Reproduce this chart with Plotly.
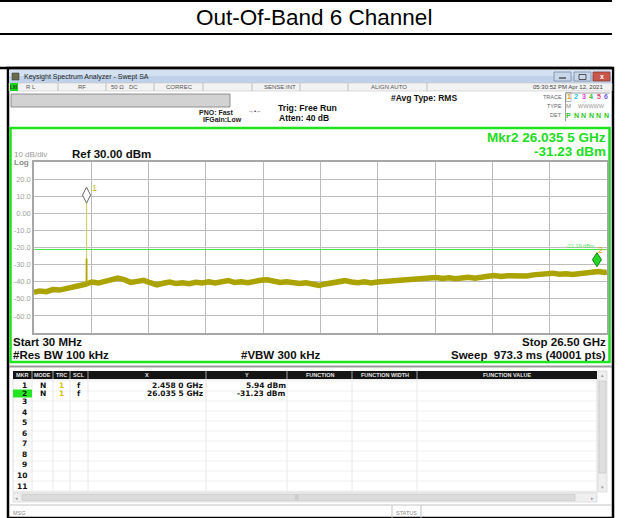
import plotly.graph_objects as go

# ---------------- data ----------------
freq_ghz = [0.03, 0.3, 0.6, 0.9, 1.2, 1.5, 1.8, 2.1, 2.4, 2.7, 3.0, 3.3, 3.6, 3.9,
            4.2, 4.5, 4.8, 5.1, 5.4, 5.7, 6.0, 6.3, 6.6, 6.9, 7.2, 7.5, 7.8, 8.1,
            8.4, 8.7, 9.0, 9.3, 9.6, 9.9, 10.2, 10.5, 10.8, 11.1, 11.4, 11.7, 12.0,
            12.3, 12.6, 12.9, 13.2, 13.5, 13.8, 14.1, 14.4, 14.7, 15.0, 15.3, 15.6,
            15.9, 16.2, 16.5, 16.8, 17.1, 17.4, 17.7, 18.0, 18.3, 18.6, 18.9, 19.2,
            19.5, 19.8, 20.1, 20.4, 20.7, 21.0, 21.3, 21.6, 21.9, 22.2, 22.5, 22.8,
            23.1, 23.4, 23.7, 24.0, 24.3, 24.6, 24.9, 25.2, 25.5, 25.8, 26.1, 26.4, 26.5]
level_dbm = [-46.2, -45.4, -45.8, -44.6, -44.9, -43.8, -43.2, -42.4, -41.6, -40.2, -40.8,
             -39.6, -39.0, -37.9, -38.8, -40.4, -39.8, -39.2, -40.6, -41.8, -40.9, -40.2,
             -41.1, -40.6, -41.2, -40.3, -40.8, -40.1, -40.7, -39.8, -39.3, -40.5, -40.0,
             -40.6, -39.7, -39.2, -38.9, -39.8, -40.4, -40.0, -40.8, -41.1, -40.6, -41.7,
             -42.2, -41.3, -40.5, -39.8, -39.4, -40.2, -40.6, -40.1, -40.7, -40.2, -39.9,
             -39.5, -39.8, -39.0, -38.7, -38.9, -38.3, -38.0, -37.5, -38.1, -37.7, -38.2,
             -37.6, -37.4, -37.9, -37.1, -36.8, -36.4, -36.9, -36.5, -36.8, -36.3, -36.6,
             -36.0, -35.6, -35.2, -35.0, -35.6, -35.3, -35.8, -35.2, -34.9, -34.4, -34.0,
             -34.6, -34.3]
spike_freq = 2.458
spike_top = 5.94
spike_base = -40.5
spike_mid = -26.5
mkr_freq = [2.4580, 26.0355]
mkr_level = [5.94, -31.23]
mkr_x_text = ["2.458 0 GHz", "26.035 5 GHz"]
mkr_y_text = ["5.94 dBm", "-31.23 dBm"]
display_line = -21.19
f_start, f_stop = 0.03, 26.5
ref_level, db_div = 30.0, 10.0
ytick_vals = [20, 10, 0, -10, -20, -30, -40, -50, -60]
ytick_text = ["20.0", "10.0", "0.00", "-10.0", "-20.0", "-30.0", "-40.0", "-50.0", "-60.0"]
table_cols = ["MKR", "MODE", "TRC", "SCL", "X", "Y", "FUNCTION", "FUNCTION WIDTH", "FUNCTION VALUE"]
row_labels = ["1", "2", "3", "4", "5", "6", "7", "8", "9", "10", "11"]

# ---------------- layout helpers ----------------
W, H = 629, 518
FONT = "Liberation Sans, Arial, sans-serif"
TFONT = "DejaVu Sans, Verdana, sans-serif"
GX0, GX1, GY0, GY1 = 34, 607, 162, 333   # grid box in pixels
GREEN = "#1ee41e"

def X(p):
    return p / W

def Y(p):
    return 1 - p / H

shapes = []
anns = []

def rect(x0, y0, x1, y1, fill="rgba(0,0,0,0)", line=None, lw=1, layer="below"):
    shapes.append(dict(type="rect", xref="paper", yref="paper",
                       x0=X(x0), x1=X(x1), y0=Y(y1), y1=Y(y0),
                       fillcolor=fill, layer=layer,
                       line=dict(color=line if line else "rgba(0,0,0,0)", width=lw if line else 0)))

def hline(x0, x1, y, color, w=1, layer="below"):
    shapes.append(dict(type="line", xref="paper", yref="paper", x0=X(x0), x1=X(x1),
                       y0=Y(y), y1=Y(y), layer=layer, line=dict(color=color, width=w)))

def vline(x, y0, y1, color, w=1, layer="below"):
    shapes.append(dict(type="line", xref="paper", yref="paper", x0=X(x), x1=X(x),
                       y0=Y(y0), y1=Y(y1), layer=layer, line=dict(color=color, width=w)))

def txt(x, y, s, size=8, color="#000", anchor="left", bold=False, family=FONT):
    anns.append(dict(xref="paper", yref="paper", x=X(x), y=Y(y),
                     text=("<b>%s</b>" % s) if bold else s, showarrow=False,
                     xanchor=anchor, yanchor="middle", borderpad=0,
                     font=dict(size=size, color=color, family=family)))

# ---------------- page title ----------------
hline(0, 612, 1, "#000", 2)
hline(0, 612, 34, "#000", 2)
txt(314, 17.5, "Out-Of-Band 6 Channel", size=22.5, color="#000", anchor="center")

# ---------------- window frame ----------------
rect(8, 68, 613, 518, fill="#ffffff", line="#000", lw=2.5)
hline(0, 612, 68, "#000", 2.5)
# title bar
rect(9, 70, 612, 76, fill="#d3e1f2")
rect(9, 76, 612, 83, fill="#bfd2ea")
rect(12, 73, 19, 80, fill="#6b6b4a", line="#333", lw=0.5)
txt(23, 77, "Keysight Spectrum Analyzer - Swept SA", size=7, color="#222")
rect(554, 72, 571, 81, fill="#c9d7ea", line="#7d8ca5", lw=0.8)
rect(574, 72, 591, 81, fill="#c9d7ea", line="#7d8ca5", lw=0.8)
rect(593, 72, 610, 81, fill="#c8564a", line="#8a3a33", lw=0.8)
hline(559, 566, 78, "#333", 1.2)
rect(579, 74.5, 586, 79.5, line="#333", lw=0.8)
txt(601.5, 76.5, "x", size=7, color="#fff", anchor="center", bold=True)

# status strip
rect(9, 83, 612, 91, fill="#f2f2f2", line="#c8c8c8", lw=0.6)
rect(10, 83, 18, 91, fill="#1ed21e")
txt(14, 87, "LXI", size=4.5, color="#1a3a1a", anchor="center", bold=True)
for sx in [58, 106, 154, 203, 252, 300, 348, 427]:
    vline(sx, 83, 91, "#b4b4b4", 0.8)
txt(25, 87, "R L", size=6, color="#555")
txt(77, 87, "RF", size=6, color="#555")
txt(110, 87, "50 Ω", size=6, color="#555")
txt(128, 87, "DC", size=6, color="#555")
txt(165, 87, "CORREC", size=6, color="#555")
txt(263, 87, "SENSE:INT", size=6, color="#555")
txt(370, 87, "ALIGN AUTO", size=6, color="#555")
txt(604, 87, "05:30:52 PM Apr 12, 2021", size=6, color="#444", anchor="right")

# info area
rect(11, 94, 230, 107, fill="#d2d2d2", line="#7a7a7a", lw=0.8)
txt(235, 112, "PNO: Fast", size=7, color="#222", anchor="right", bold=True)
txt(243, 120, "IFGain:Low", size=7, color="#222", anchor="right", bold=True)
txt(255, 111.5, "→•←", size=6, color="#333", anchor="center")
txt(277, 108, "Trig: Free Run", size=8.7, color="#111", bold=True)
txt(278, 118, "Atten: 40 dB", size=8.5, color="#111", bold=True)
txt(390, 98, "#Avg Type: RMS", size=8.5, color="#111", bold=True)
txt(563, 97, "TRACE", size=5.5, color="#666", anchor="right")
txt(563, 106, "TYPE", size=5.5, color="#666", anchor="right")
txt(563, 115, "DET", size=5.5, color="#666", anchor="right")
vline(565.5, 93, 121, "#888", 0.8)
hline(565.5, 610, 93, "#888", 0.8)
rect(566, 92.5, 571, 101.5, line="#888", lw=0.6)
digit_cols = ["#e0a000", "#10c8e8", "#e040e0", "#30c030", "#e04080", "#7060e0"]
for i, c in enumerate(digit_cols):
    txt(568.5 + i * 7.5, 97, str(i + 1), size=7, color=c, anchor="center", bold=True)
txt(568.5, 106, "M", size=6, color="#888", anchor="center")
txt(591, 106, "WWWWW", size=5.5, color="#999", anchor="center")
txt(568.5, 115, "P", size=7, color="#28c828", anchor="center", bold=True)
for i in range(5):
    txt(576 + i * 7.5, 115, "N", size=7, color="#28c828", anchor="center", bold=True)

# display box
rect(10.5, 128, 609.5, 362, fill="#ffffff", line=GREEN, lw=2.5)
txt(607, 137.5, "Mkr2 26.035 5 GHz", size=13.5, color="#22dc22", anchor="right", bold=True)
txt(607, 151.5, "-31.23 dBm", size=13.5, color="#22dc22", anchor="right", bold=True)
txt(13, 155, "10 dB/div", size=8, color="#9a9a9a")
txt(13, 163, "Log", size=8, color="#8a8a8a", bold=True)
txt(71, 154, "Ref 30.00 dBm", size=11.5, color="#111", bold=True)
txt(12, 342, "Start 30 MHz", size=11.5, color="#111", bold=True)
txt(607, 342, "Stop 26.50 GHz", size=11.5, color="#111", anchor="right", bold=True)
txt(12, 354.5, "#Res BW 100 kHz", size=11.5, color="#111", bold=True)
txt(240, 354.5, "#VBW 300 kHz", size=11.5, color="#111", bold=True)
txt(607, 354.5, "Sweep  973.3 ms (40001 pts)", size=11.5, color="#111", anchor="right", bold=True)
hline(9, 612, 366.5, "#9a9a9a", 2)

# ---------------- marker table ----------------
rect(13, 379, 597, 492, fill="#ffffff", line="#c8c8c8", lw=0.6)
rect(13, 371, 597, 379, fill="#141414")
col_sep = [32, 53, 70, 88, 206, 287, 352, 417]
col_ctr = [22.5, 42.5, 61.5, 79, 147, 246.5, 320, 384.5, 507]
for cx in col_sep:
    vline(cx, 371, 379, "#8a8a8a", 1.2)
    vline(cx, 379, 492, "#e2e2e2", 0.8)
for i in range(12):
    hline(13, 597, 381 + 10 * i, "#ececec", 0.8)
for name, cx in zip(table_cols, col_ctr):
    txt(cx, 375, name, size=5.5, color="#e6e6e6", anchor="center", bold=True)
row_y = [385.5, 393.5, 401.5, 412.0, 422.6, 433.2, 443.7, 454.3, 464.8, 475.4, 486.0]
rect(13, 389.5, 32, 397.5, fill="#22e622")
for lab, ry in zip(row_labels, row_y):
    txt(27.5, ry, lab, size=7.5, color="#111", anchor="right", bold=True, family=TFONT)
for k in range(len(mkr_freq)):
    ry = row_y[k]
    txt(42.5, ry, "N", size=7.5, color="#111", anchor="center", bold=True, family=TFONT)
    txt(61.5, ry, "1", size=7.5, color="#d4c400", anchor="center", bold=True, family=TFONT)
    txt(79, ry, "f", size=7.5, color="#111", anchor="center", bold=True, family=TFONT)
    txt(203.5, ry, mkr_x_text[k], size=7.5, color="#111", anchor="right", bold=True, family=TFONT)
    txt(286.5, ry, mkr_y_text[k], size=7.5, color="#111", anchor="right", bold=True, family=TFONT)
# scrollbars
rect(598, 371, 607, 492, fill="#efefef", line="#d0d0d0", lw=0.6)
rect(599, 381, 606, 473, fill="#dedede", line="#c4c4c4", lw=0.6)
txt(602.5, 375, "▴", size=5, color="#999", anchor="center")
txt(602.5, 487, "▾", size=5, color="#999", anchor="center")
rect(13, 493, 597, 502, fill="#efefef", line="#d0d0d0", lw=0.6)
rect(22, 494.5, 575, 500.5, fill="#dcdcdc", line="#c4c4c4", lw=0.6)
txt(16, 497.5, "◂", size=5, color="#999", anchor="center")
txt(592, 497.5, "▸", size=5, color="#999", anchor="center")
txt(297, 497.5, "|||", size=4.5, color="#aaa", anchor="center")
# bottom status
hline(9, 612, 505, "#c4c4c4", 1)
vline(392, 505, 518, "#c4c4c4", 1)
vline(421, 505, 518, "#c4c4c4", 1)
txt(12, 512.5, "MSG", size=5.5, color="#888")
txt(406.5, 512.5, "STATUS", size=5.5, color="#888", anchor="center")

# ---------------- spectrum plot ----------------
fig = go.Figure()
fig.add_trace(go.Scatter(x=freq_ghz, y=level_dbm, mode="lines",
                         line=dict(color="#aaa300", width=5.5), hoverinfo="skip"))
fig.add_trace(go.Scatter(x=[spike_freq, spike_freq], y=[spike_base, spike_top], mode="lines",
                         line=dict(color="#d6cf72", width=1.2), hoverinfo="skip"))
fig.add_trace(go.Scatter(x=[spike_freq, spike_freq], y=[spike_base, spike_mid], mode="lines",
                         line=dict(color="#b0a800", width=1.8), hoverinfo="skip"))

# display line
shapes.append(dict(type="line", xref="x", yref="y", x0=f_start, x1=f_stop,
                   y0=display_line, y1=display_line, layer="above",
                   line=dict(color="#4ce84c", width=1)))
anns.append(dict(xref="paper", yref="y", x=X(597), y=display_line, yshift=4,
                 text="-21.19 dBm", showarrow=False, xanchor="right", yanchor="middle",
                 font=dict(size=5.5, color="#55dd55", family=FONT)))

# marker diamonds (tip sits on the marker value)
ppg = (GX1 - GX0) / (f_stop - f_start)
ppd = (GY1 - GY0) / 100.0

def diamond(f, lv, w_px, h_px, fill, edge):
    dx = (w_px / 2) / ppg
    dh = h_px / ppd
    p = "M %f,%f L %f,%f L %f,%f L %f,%f Z" % (f, lv, f + dx, lv + dh / 2, f, lv + dh, f - dx, lv + dh / 2)
    shapes.append(dict(type="path", xref="x", yref="y", path=p, layer="above",
                       fillcolor=fill, line=dict(color=edge, width=1)))

diamond(mkr_freq[0], mkr_level[0], 8, 16, "#ffffff", "#6a6a6a")
diamond(mkr_freq[1], mkr_level[1], 9, 14, "#22d822", "#168016")
anns.append(dict(xref="x", yref="y", x=mkr_freq[0], y=mkr_level[0], xshift=8, yshift=15,
                 text="1", showarrow=False, font=dict(size=9, color="#c8b800", family=FONT)))
anns.append(dict(xref="x", yref="y", x=mkr_freq[1], y=mkr_level[1], xshift=3.5, yshift=17,
                 text="2", showarrow=False, font=dict(size=9, color="#e0a020", family=FONT)))

fig.update_layout(
    width=W, height=H, margin=dict(l=0, r=0, t=0, b=0),
    paper_bgcolor="#ffffff", plot_bgcolor="rgba(0,0,0,0)",
    showlegend=False, shapes=shapes, annotations=anns,
    xaxis=dict(domain=[X(GX0), X(GX1)], range=[f_start, f_stop],
               tick0=f_start, dtick=(f_stop - f_start) / 10, showticklabels=False,
               showgrid=True, gridcolor="#bcbcbc", gridwidth=1.3, zeroline=False,
               showline=True, mirror=True, linecolor="#a6a6a6", linewidth=1.5, ticks="",
               fixedrange=True),
    yaxis=dict(domain=[Y(GY1), Y(GY0)], range=[ref_level - 10 * db_div, ref_level],
               tickvals=ytick_vals, ticktext=ytick_text,
               tickfont=dict(size=7.5, color="#a0a0a0", family=FONT),
               showgrid=True, gridcolor="#bcbcbc", gridwidth=1.3, zeroline=False,
               showline=True, mirror=True, linecolor="#a6a6a6", linewidth=1.5, ticks="",
               fixedrange=True),
)

fig.write_html("out.html", config={"displayModeBar": False},
               post_script="document.body.style.margin='0px';document.body.style.overflow='hidden';")
